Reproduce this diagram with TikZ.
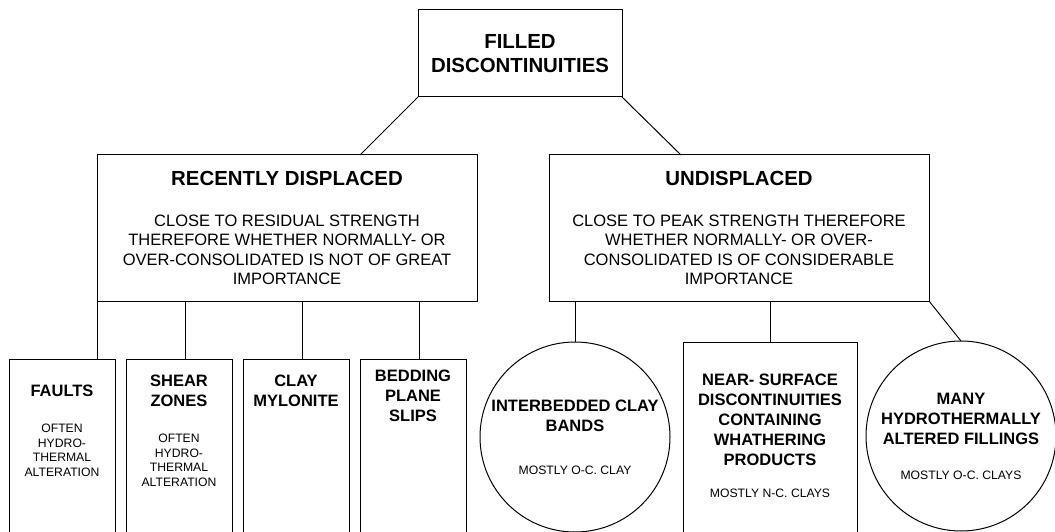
\documentclass[tikz,border=0pt]{standalone}
\usepackage{fontspec}
\setmainfont{Liberation Sans}
\usetikzlibrary{positioning}

\newcommand{\headfont}{\fontsize{20.4}{24.4}\selectfont\bfseries}
\newcommand{\notefont}{\fontsize{16.5}{19.5}\selectfont\mdseries}
\newcommand{\namefont}{\fontsize{16.5}{20}\selectfont\bfseries}
\newcommand{\smallfont}{\fontsize{12.2}{14.5}\selectfont\mdseries}
% top-aligned text for the open-ended boxes
\newcommand{\leaftext}[5]{\parbox[t][200pt][t]{#1}{\centering\vspace*{#2}{\namefont #3\par}\vspace{#4}{\smallfont #5\par}}}

\begin{document}
\begin{tikzpicture}[
    x=1pt, y=-1pt,
    line width=1pt, outer sep=0pt,
    root/.style={rectangle, draw, align=center, font=\headfont, minimum width=204pt, minimum height=87pt},
    branch/.style={rectangle, draw, align=center, font=\notefont, minimum width=380pt, minimum height=146pt},
    leaf/.style={rectangle, draw, inner xsep=4pt, inner ysep=0pt},
    bubble/.style={circle, draw, align=center, font=\namefont, minimum size=190pt, inner sep=0pt}
]
\clip (0,0) rectangle (1055,532);

% Root
\node[root] (filled) at (520,53.5) {FILLED\\DISCONTINUITIES};

% Second row
\node[branch, below=58pt of filled, xshift=-233pt] (recent) {{\headfont RECENTLY DISPLACED}\\[21.5pt]
    CLOSE TO RESIDUAL STRENGTH\\THEREFORE WHETHER NORMALLY- OR\\OVER-CONSOLIDATED IS NOT OF GREAT\\IMPORTANCE};
\node[branch, below=58pt of filled, xshift=219pt] (undisp) {{\headfont UNDISPLACED}\\[21.5pt]
    CLOSE TO PEAK STRENGTH THEREFORE\\WHETHER NORMALLY- OR OVER-\\CONSOLIDATED IS OF CONSIDERABLE\\IMPORTANCE};

% Third row - recently displaced
\node[leaf, below=58pt of recent, xshift=-225pt] (faults) {\leaftext{98pt}{26pt}{FAULTS}{21.5pt}{OFTEN\\HYDRO-\\THERMAL\\ALTERATION}};
\node[leaf, right=11pt of faults] (shear) {\leaftext{98pt}{16pt}{SHEAR\\ZONES}{21.5pt}{OFTEN\\HYDRO-\\THERMAL\\ALTERATION}};
\node[leaf, right=11pt of shear] (clay) {\leaftext{98pt}{16pt}{CLAY\\MYLONITE}{0pt}{}};
\node[leaf, right=11pt of clay] (bedding) {\leaftext{98pt}{11pt}{BEDDING\\PLANE\\SLIPS}{0pt}{}};

% Third row - undisplaced
\node[bubble, below=41pt of undisp, xshift=-164pt] (inter) {INTERBEDDED CLAY\\BANDS\\[23pt]{\smallfont MOSTLY O-C. CLAY}};
\node[leaf, below=41pt of undisp, xshift=31pt] (near) {\leaftext{166pt}{32pt}{NEAR- SURFACE\\DISCONTINUITIES\\CONTAINING\\WHATHERING\\PRODUCTS}{17.5pt}{MOSTLY N-C. CLAYS}};
\node[bubble, below=40pt of undisp, xshift=222pt] (many) {MANY\\HYDROTHERMALLY\\ALTERED FILLINGS\\[15pt]{\smallfont MOSTLY O-C. CLAYS}};

% Lines
\draw (filled.south west) -- ([xshift=73pt]recent.north);
\draw (filled.south east) -- ([xshift=-58pt]undisp.north);
\draw (recent.south west) -- ([xshift=35pt]faults.north);
\draw ([xshift=-102pt]recent.south) -- ([xshift=6pt]shear.north);
\draw ([xshift=15pt]recent.south) -- ([xshift=6pt]clay.north);
\draw ([xshift=132pt]recent.south) -- ([xshift=6pt]bedding.north);
\draw (inter.north) -- (inter.north |- undisp.south);
\draw (near.north) -- (near.north |- undisp.south);
\draw (undisp.south east) -- (many.north);

\end{tikzpicture}
\end{document}
